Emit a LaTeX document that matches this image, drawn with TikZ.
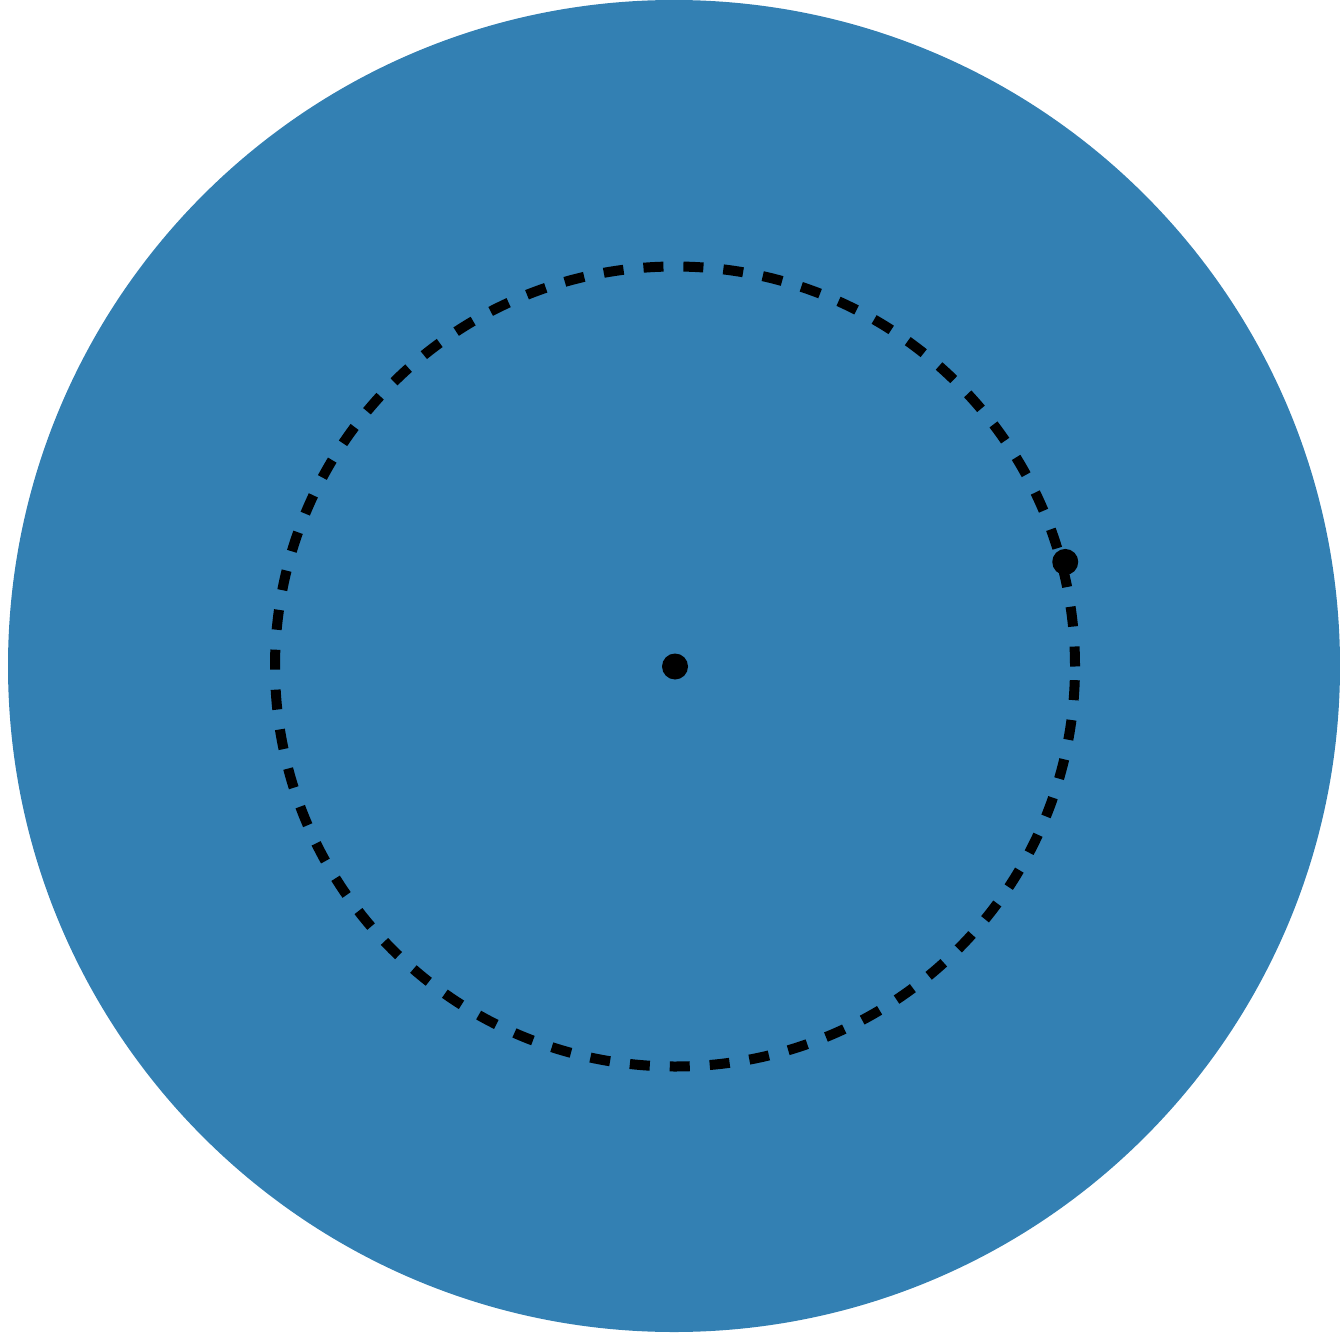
\documentclass[tikz,border=0pt]{standalone}
\definecolor{discblue}{RGB}{51,128,179}
\tikzset{
  dot/.style={circle,fill=black,inner sep=0pt,minimum size=0.26cm},
  orbit/.style={draw=black,line width=0.1cm,dash pattern=on 0.2cm off 0.2cm}
}
\begin{document}
\begin{tikzpicture}[x=1cm,y=1cm]
\useasboundingbox (0,0) rectangle (13.40,13.33);
\fill[discblue] (6.74,6.67) circle (6.66);

\node[dot] (c) at (6.75,6.665) {};
\draw[orbit] (c) circle (4.0);

\node[dot] (p) at ([shift={(c)}]15:4.04) {};
\end{tikzpicture}
\end{document}
